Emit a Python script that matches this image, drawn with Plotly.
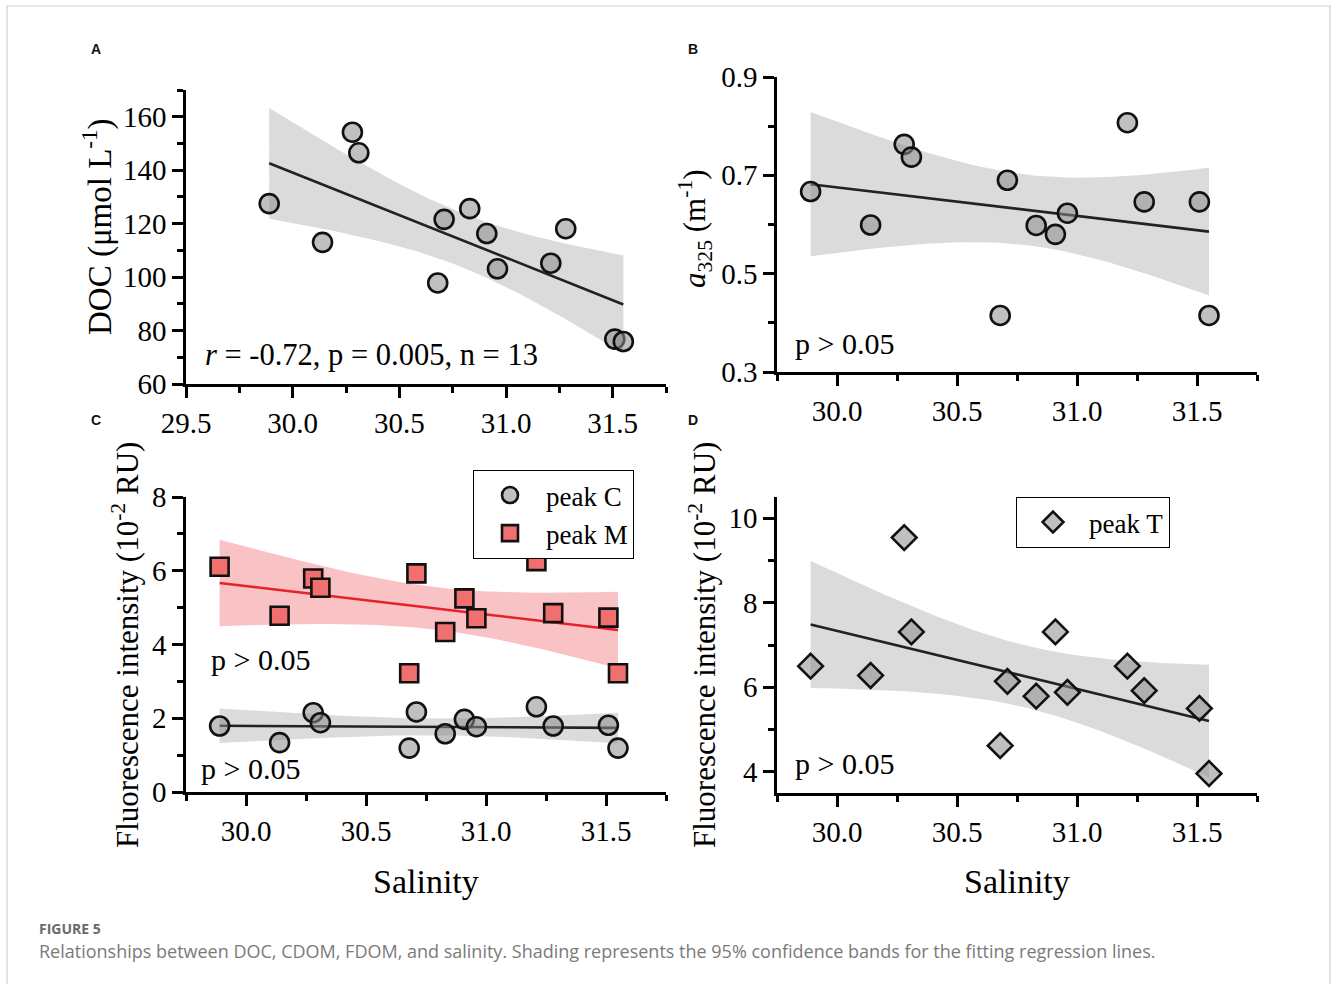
import numpy as np
import plotly.graph_objects as go

# ---------------- data ----------------
salinity = [29.89, 30.14, 30.28, 30.31, 30.68, 30.71, 30.83, 30.91, 30.96, 31.21, 31.28, 31.51, 31.55]
doc      = [127.5, 113.0, 154.2, 146.5, 97.8, 121.6, 125.6, 116.3, 103.1, 105.2, 118.1, 76.8, 75.9]
a325     = [0.667, 0.599, 0.763, 0.737, 0.415, 0.690, 0.598, 0.580, 0.623, 0.807, 0.646, 0.646, 0.415]
peak_c   = [1.79, 1.34, 2.15, 1.88, 1.19, 2.17, 1.58, 1.97, 1.77, 2.31, 1.79, 1.81, 1.19]
peak_m   = [6.11, 4.78, 5.79, 5.54, 3.22, 5.93, 4.34, 5.25, 4.71, 6.26, 4.85, 4.73, 3.22]
peak_t   = [6.50, 6.28, 9.54, 7.31, 4.62, 6.14, 5.79, 7.31, 5.88, 6.50, 5.92, 5.50, 3.96]

W, H = 1333, 984
T_975_DF11 = 2.201  # Student t quantile, df = n-2 = 11


def fit_band(x, y, npts=60):
    x = np.asarray(x, float)
    y = np.asarray(y, float)
    n = len(x)
    b, a = np.polyfit(x, y, 1)
    xs = np.linspace(x.min(), x.max(), npts)
    yh = a + b * xs
    res = y - (a + b * x)
    s = np.sqrt(np.sum(res ** 2) / (n - 2))
    sxx = np.sum((x - x.mean()) ** 2)
    se = s * np.sqrt(1.0 / n + (xs - x.mean()) ** 2 / sxx)
    return xs, yh, yh - T_975_DF11 * se, yh + T_975_DF11 * se


def px_x(v):
    return v / W


def px_y(v):
    return 1 - v / H


SERIF = "Liberation Serif"
GRAY_BAND = "rgba(200,200,200,0.65)"
RED_BAND = "rgba(242,120,125,0.45)"
GRAY_FILL = "rgba(140,140,140,0.55)"
RED_FILL = "#F07070"
LINE_DARK = "#222222"

fig = go.Figure()


def add_band_line(x, y, xa, ya, band_color, line_color):
    xs, yh, lo, hi = fit_band(x, y)
    fig.add_trace(go.Scatter(
        x=list(xs) + list(xs[::-1]), y=list(hi) + list(lo[::-1]),
        fill="toself", fillcolor=band_color, line=dict(width=0),
        mode="lines", showlegend=False, hoverinfo="skip", xaxis=xa, yaxis=ya))
    fig.add_trace(go.Scatter(
        x=xs, y=yh, mode="lines", line=dict(color=line_color, width=2.6),
        showlegend=False, hoverinfo="skip", xaxis=xa, yaxis=ya))


# Panel A
add_band_line(salinity, doc, "x", "y", GRAY_BAND, LINE_DARK)
fig.add_trace(go.Scatter(x=salinity, y=doc, mode="markers", showlegend=False,
                         marker=dict(symbol="circle", size=19, color=GRAY_FILL,
                                     line=dict(color="#111", width=2.6)),
                         xaxis="x", yaxis="y"))
# Panel B
add_band_line(salinity, a325, "x2", "y2", GRAY_BAND, LINE_DARK)
fig.add_trace(go.Scatter(x=salinity, y=a325, mode="markers", showlegend=False,
                         marker=dict(symbol="circle", size=19, color=GRAY_FILL,
                                     line=dict(color="#111", width=2.6)),
                         xaxis="x2", yaxis="y2"))
# Panel C
add_band_line(salinity, peak_m, "x3", "y3", RED_BAND, "#E82028")
add_band_line(salinity, peak_c, "x3", "y3", GRAY_BAND, LINE_DARK)
fig.add_trace(go.Scatter(x=salinity, y=peak_c, mode="markers", name="peak C",
                         marker=dict(symbol="circle", size=19, color=GRAY_FILL,
                                     line=dict(color="#111", width=2.6)),
                         xaxis="x3", yaxis="y3", legend="legend"))
fig.add_trace(go.Scatter(x=salinity, y=peak_m, mode="markers", name="peak M",
                         marker=dict(symbol="square", size=18, color=RED_FILL,
                                     line=dict(color="#111", width=2.6)),
                         xaxis="x3", yaxis="y3", legend="legend"))
# Panel D
add_band_line(salinity, peak_t, "x4", "y4", GRAY_BAND, LINE_DARK)
fig.add_trace(go.Scatter(x=salinity, y=peak_t, mode="markers", name="peak T",
                         marker=dict(symbol="diamond", size=19, color=GRAY_FILL,
                                     line=dict(color="#111", width=2.6)),
                         xaxis="x4", yaxis="y4", legend="legend2"))


def axis(domain, rng, dtick, tick0, minor_dtick, fmt, anchor):
    return dict(
        domain=domain, range=rng, dtick=dtick, tick0=tick0, tickformat=fmt,
        anchor=anchor, showline=True, linecolor="black", linewidth=2.5,
        ticks="outside", ticklen=11, tickwidth=2.5, tickcolor="black",
        showgrid=False, zeroline=False, fixedrange=True, automargin=False,
        tickfont=dict(family=SERIF, size=29, color="black"),
        minor=dict(ticks="outside", ticklen=6, tickwidth=2.5, tickcolor="black",
                   dtick=minor_dtick, tick0=tick0, showgrid=False),
    )


xA = [px_x(186), px_x(666)]
xB = [px_x(777), px_x(1257)]
fig.update_layout(
    xaxis=axis(xA, [29.5, 31.75], 0.5, 29.5, 0.25, ".1f", "y"),
    yaxis=axis([px_y(384), px_y(90)], [60, 170], 20, 60, 10, "d", "x"),
    xaxis2=axis(xB, [29.75, 31.75], 0.5, 30.0, 0.25, ".1f", "y2"),
    yaxis2=axis([px_y(372), px_y(77)], [0.3, 0.9], 0.2, 0.3, 0.1, ".1f", "x2"),
    xaxis3=axis(xA, [29.75, 31.75], 0.5, 30.0, 0.25, ".1f", "y3"),
    yaxis3=axis([px_y(792), px_y(497)], [0, 8], 2, 0, 1, "d", "x3"),
    xaxis4=axis(xB, [29.75, 31.75], 0.5, 30.0, 0.25, ".1f", "y4"),
    yaxis4=axis([px_y(793), px_y(497)], [3.5, 10.5], 2, 4, 1, "d", "x4"),
)

legend_style = dict(bgcolor="white", bordercolor="black", borderwidth=1,
                    font=dict(family=SERIF, size=27, color="black"),
                    xanchor="left", yanchor="top", itemwidth=62,
                    tracegroupgap=0)
fig.update_layout(
    legend=dict(x=px_x(473), y=px_y(470), **legend_style),
    legend2=dict(x=px_x(1016), y=px_y(497), **legend_style),
)

annots = []


def txt(text, x, y, size=30, anchor="left", angle=0, family=SERIF, color="black"):
    annots.append(dict(text=text, x=px_x(x), y=px_y(y), xref="paper", yref="paper",
                       xanchor=anchor, yanchor="middle", showarrow=False,
                       textangle=angle, font=dict(family=family, size=size, color=color)))


# axis titles
txt("DOC (μmol L<sup>-1</sup>)", 97, 227, size=33, anchor="center", angle=-90)
txt("<i>a</i><sub>325</sub> (m<sup>-1</sup>)", 695, 228, size=31, anchor="center", angle=-90)
txt("Fluorescence intensity (10<sup>-2</sup> RU)", 125, 645, size=31, anchor="center", angle=-90)
txt("Fluorescence intensity (10<sup>-2</sup> RU)", 702, 645, size=31, anchor="center", angle=-90)
txt("Salinity", 426, 881, size=34, anchor="center")
txt("Salinity", 1017, 881, size=34, anchor="center")

# statistics
txt("<i>r</i> = -0.72, p = 0.005, n = 13", 203, 355, size=30.5)
txt("p > 0.05", 793, 343, size=30)
txt("p > 0.05", 209, 659, size=30)
txt("p > 0.05", 199, 768, size=30)
txt("p > 0.05", 793, 763, size=30)

# panel letters
for lab, x, y in [("A", 96, 49), ("B", 693, 49), ("C", 96, 420), ("D", 693, 420)]:
    txt("<b>%s</b>" % lab, x, y, size=14, anchor="center", family="Liberation Sans", color="#111")

# caption
txt("<b>FIGURE 5</b>", 37, 928, size=14, family="Open Sans", color="#6a6a6a")
txt("Relationships between DOC, CDOM, FDOM, and salinity. Shading represents the 95% "
    "confidence bands for the fitting regression lines.", 37, 951, size=18,
    family="Open Sans", color="#7a7a7a")

fig.update_layout(
    annotations=annots,
    shapes=[dict(type="rect", xref="paper", yref="paper",
                 x0=px_x(7), x1=px_x(1330), y0=-0.02, y1=px_y(6),
                 line=dict(color="#d0d0d0", width=1.2), fillcolor="rgba(0,0,0,0)",
                 layer="below")],
    width=W, height=H, margin=dict(l=0, r=0, t=0, b=0, autoexpand=False),
    paper_bgcolor="white", plot_bgcolor="rgba(0,0,0,0)",
    font=dict(family=SERIF, color="black"),
)

fig.write_html("out.html", config={"displayModeBar": False})
